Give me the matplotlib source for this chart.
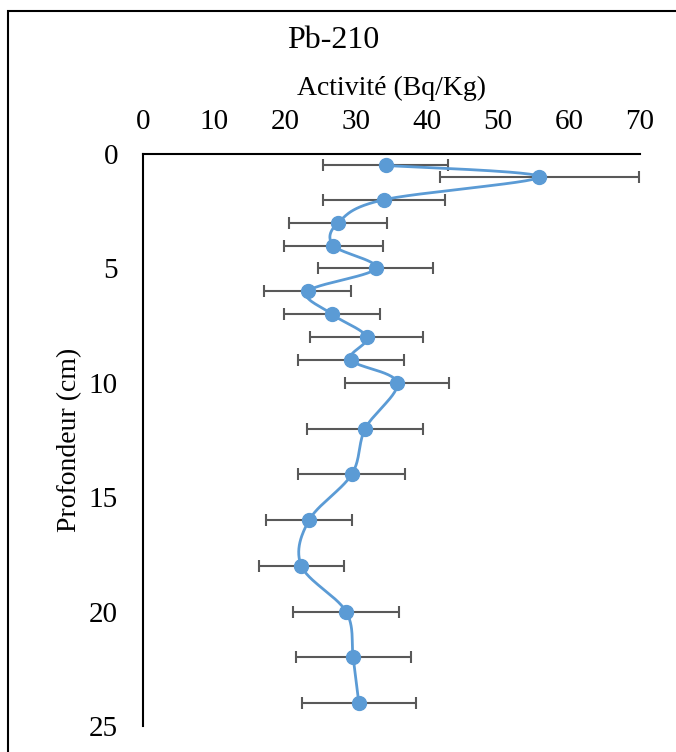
import matplotlib.pyplot as plt
from matplotlib.patches import Rectangle
import numpy as np

# depth (cm) and Pb-210 activity (Bq/Kg) with error
depth = [0.5, 1, 2, 3, 4, 5, 6, 7, 8, 9, 10, 12, 14, 16, 18, 20, 22, 24]
activity = [34.2, 55.8, 33.9, 27.5, 26.8, 32.8, 23.2, 26.6, 31.5, 29.3,
            35.8, 31.3, 29.4, 23.4, 22.3, 28.6, 29.6, 30.4]
err = [8.8, 14.0, 8.6, 6.9, 7.0, 8.1, 6.1, 6.8, 8.0, 7.5,
       7.3, 8.2, 7.5, 6.1, 6.0, 7.5, 8.1, 8.0]
xticks = [0, 10, 20, 30, 40, 50, 60, 70]
yticks = [0, 5, 10, 15, 20, 25]

plt.rcParams['font.family'] = ['Liberation Serif', 'DejaVu Serif']

fig = plt.figure(figsize=(6.76, 7.52), dpi=100)
ax = fig.add_axes([143/676, 1 - 726/752, 497/676, 572/752])
ax.set_xlim(0, 70)
ax.set_ylim(25, 0)

blue = '#5B9BD5'
grey = '#595959'

ax.errorbar(activity, depth, xerr=err, fmt='none', ecolor=grey,
            elinewidth=1.5, capsize=4, capthick=1.5, zorder=2)

# smoothed line (bezier through the points, in display space)
pts = ax.transData.transform(np.column_stack([activity, depth]))
curve = []
n = len(pts)
for i in range(n - 1):
    p0 = pts[max(i - 1, 0)]
    p1 = pts[i]
    p2 = pts[i + 1]
    p3 = pts[min(i + 2, n - 1)]
    b1 = p1 + (p2 - p0) / 6
    b2 = p2 - (p3 - p1) / 6
    t = np.linspace(0, 1, 30)[:, None]
    seg = (1-t)**3*p1 + 3*(1-t)**2*t*b1 + 3*(1-t)*t**2*b2 + t**3*p2
    curve.append(seg)
curve = ax.transData.inverted().transform(np.vstack(curve))
ax.plot(curve[:, 0], curve[:, 1], color=blue, lw=2, zorder=3)
ax.plot(activity, depth, 'o', color=blue, ms=10, zorder=4)

ax.xaxis.tick_top()
ax.xaxis.set_label_position('top')
ax.set_xticks(xticks)
ax.set_yticks(yticks)
ax.tick_params(length=0, labelsize=21, pad=14)
ax.tick_params(axis='y', pad=18)
ax.spines['right'].set_visible(False)
ax.spines['bottom'].set_visible(False)
for s in ('top', 'left'):
    ax.spines[s].set_linewidth(1.5)
ax.set_xlabel('Activité (Bq/Kg)', fontsize=20, labelpad=10)
ax.set_ylabel('Profondeur (cm)', fontsize=20, labelpad=5)

fig.text(333/676, 1 - 40/752, 'Pb-210', fontsize=23, ha='center', va='center')
fig.patches.append(Rectangle((8/676, -0.02), 1.1, 1 - 11/752 + 0.02,
                             transform=fig.transFigure, fill=False,
                             lw=1.5, ec='black'))

fig.savefig('out.png', dpi=100)
